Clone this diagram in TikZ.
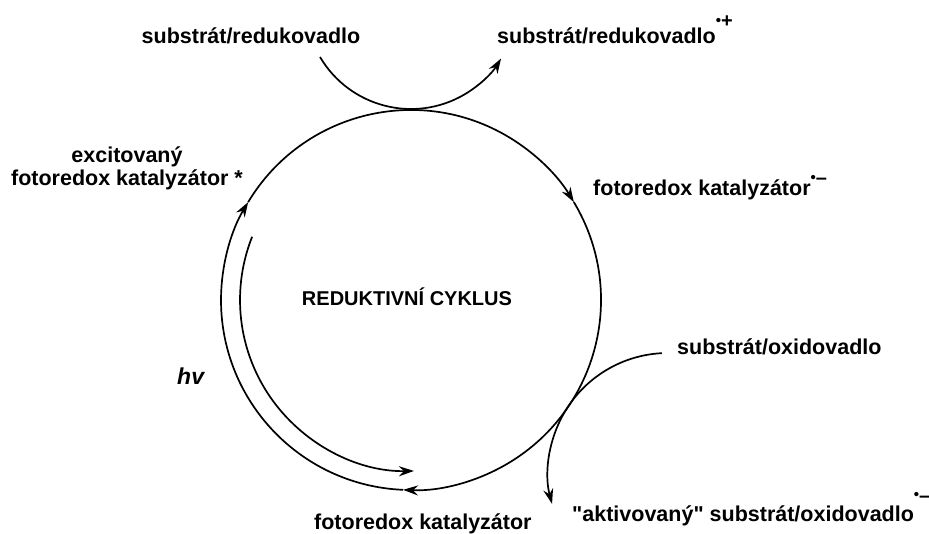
\documentclass[tikz,border=0pt]{standalone}
\usepackage{fontspec}
\setmainfont{Liberation Sans}[Ligatures=TeXOff]
\usetikzlibrary{arrows.meta}
% #1 raise of the superscript centre above the baseline, #2 sign
\newcommand{\supdot}[2]{\raisebox{\dimexpr#1-4.5pt\relax}{\fontsize{15}{15}\selectfont •}\raisebox{\dimexpr#1-7pt\relax}{\fontsize{20}{20}\selectfont#2}}
\begin{document}
\begin{tikzpicture}[x=1pt,y=1pt,
  lbl/.style={inner sep=0pt, font=\fontsize{21.5}{24}\selectfont\bfseries},
  ln/.style={line width=1.7pt},
  tip/.style={-{Stealth[length=15pt,width=10pt,inset=5pt]}}]
\useasboundingbox (0,0) rectangle (929,533);
\coordinate (C) at (411,233);
\coordinate (T) at (411,529.6);
\coordinate (R) at (668,60);
% main cycle (clockwise)
\draw[ln,tip] (C) ++(267.6:190) arc[start angle=267.6, end angle=149, radius=190];
\draw[ln,tip] (C) ++(149:190) arc[start angle=149, end angle=31, radius=190];
\draw[ln,tip] (C) ++(31:190) arc[start angle=31, end angle=-92.4, radius=190];
% inner light arc
\draw[ln,tip] (C) ++(158.3:171) arc[start angle=158.3, end angle=271, radius=171];
% top exchange arc
\draw[ln,tip] (T) ++(210.5:105.6) arc[start angle=210.5, end angle=328.5, radius=105.6];
% right exchange arc
\draw[ln,tip] (R) ++(92.9:120) arc[start angle=92.9, end angle=194.9, radius=120];
% labels
\node[lbl, anchor=base] (sr1) at (251,489) {substrát/redukovadlo};
\node[lbl, anchor=base west] (sr2) at (497,489) {substrát/redukovadlo\supdot{23pt}{+}};
\node[lbl, anchor=base] (ex1) at (127,370) {excitovaný};
\node[lbl, anchor=base] (ex2) at (127,347) {fotoredox katalyzátor *};
\node[lbl, anchor=base west] (fk1) at (593,337) {fotoredox katalyzátor\supdot{18pt}{–}};
\node[lbl, anchor=base, font=\fontsize{20}{24}\selectfont\bfseries] (red) at (407,227) {REDUKTIVNÍ CYKLUS};
\node[lbl, anchor=base west] (so) at (677,178) {substrát/oxidovadlo};
\node[lbl, anchor=base west, font=\fontsize{23}{26}\selectfont\bfseries\itshape] (hv) at (177,148) {hv};
\node[lbl, anchor=base west] (fk2) at (314,4) {fotoredox katalyzátor};
\node[lbl, anchor=base west] (ak) at (572,12) {"aktivovaný" substrát/oxidovadlo\supdot{26pt}{–}};
\end{tikzpicture}
\end{document}
